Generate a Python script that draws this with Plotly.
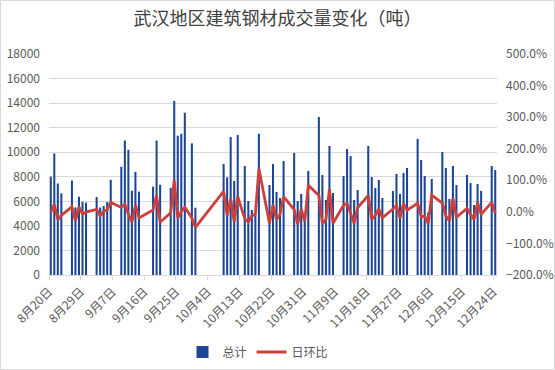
import plotly.graph_objects as go

# ---- data ----
dates = [
    "2019-08-20", "2019-08-21", "2019-08-22", "2019-08-23",
    "2019-08-26", "2019-08-27", "2019-08-28", "2019-08-29", "2019-08-30",
    "2019-09-02", "2019-09-03", "2019-09-04", "2019-09-05", "2019-09-06",
    "2019-09-09", "2019-09-10", "2019-09-11", "2019-09-12", "2019-09-13", "2019-09-14",
    "2019-09-18", "2019-09-19", "2019-09-20",
    "2019-09-23", "2019-09-24", "2019-09-25", "2019-09-26", "2019-09-27",
    "2019-09-29", "2019-09-30",
    "2019-10-08", "2019-10-09", "2019-10-10", "2019-10-11", "2019-10-12",
    "2019-10-14", "2019-10-15", "2019-10-16", "2019-10-17", "2019-10-18",
    "2019-10-21", "2019-10-22", "2019-10-23", "2019-10-24", "2019-10-25",
    "2019-10-28", "2019-10-29", "2019-10-30", "2019-10-31", "2019-11-01",
    "2019-11-04", "2019-11-05", "2019-11-06", "2019-11-07", "2019-11-08",
    "2019-11-11", "2019-11-12", "2019-11-13", "2019-11-14", "2019-11-15",
    "2019-11-18", "2019-11-19", "2019-11-20", "2019-11-21", "2019-11-22",
    "2019-11-25", "2019-11-26", "2019-11-27", "2019-11-28", "2019-11-29",
    "2019-12-02", "2019-12-03", "2019-12-04", "2019-12-05", "2019-12-06",
    "2019-12-09", "2019-12-10", "2019-12-11", "2019-12-12", "2019-12-13",
    "2019-12-16", "2019-12-17", "2019-12-18", "2019-12-19", "2019-12-20",
    "2019-12-23", "2019-12-24",
]

total = [
    8000, 9900, 7450, 6650,
    7700, 5500, 6380, 5960, 5900,
    6350, 5500, 5620, 5950, 7750,
    8820, 10950, 10200, 6860, 8400, 6790,
    7200, 10950, 7350,
    7100, 14180, 11350, 11500, 13220,
    10720, 5480,
    9040, 7960, 11240, 7660, 11400,
    8880, 6030, 5300, 4850, 11500,
    7330, 9040, 6760, 6270, 9290,
    9940, 6030, 6600, 4600, 8470,
    12870, 8150, 6110, 10510, 6680,
    8060, 10260, 9690, 6110, 6920,
    10510, 7980, 7090, 7740, 6270,
    6840, 8230, 6600, 8310, 8720,
    11080, 9370, 8060, 5100, 7820,
    10020, 8720, 6190, 8880, 7330,
    8150, 7490, 5700, 7410, 6840,
    8880, 8550,
]

ratio = [
    -0.03, 0.24, -0.25, -0.11,
    0.16, -0.29, 0.16, -0.07, -0.01,
    0.08, -0.13, 0.02, 0.06, 0.30,
    0.14, 0.24, -0.07, -0.33, 0.22, -0.19,
    0.06, 0.52, -0.33,
    -0.03, 1.00, -0.20, 0.01, 0.15,
    -0.19, -0.49,
    0.65, -0.12, 0.41, -0.32, 0.49,
    -0.22, -0.32, -0.12, -0.08, 1.37,
    -0.36, 0.23, -0.25, -0.07, 0.48,
    0.07, -0.39, 0.09, -0.30, 0.84,
    0.52, -0.37, -0.25, 0.72, -0.36,
    0.21, 0.27, -0.06, -0.37, 0.13,
    0.52, -0.24, -0.11, 0.09, -0.19,
    0.09, 0.20, -0.20, 0.26, 0.05,
    0.27, -0.15, -0.14, -0.37, 0.53,
    0.28, -0.13, -0.29, 0.43, -0.17,
    0.11, -0.08, -0.24, 0.30, -0.08,
    0.30, -0.04,
]

tick_dates = ["2019-08-20", "2019-08-29", "2019-09-07", "2019-09-16", "2019-09-25",
              "2019-10-04", "2019-10-13", "2019-10-22", "2019-10-31", "2019-11-09",
              "2019-11-18", "2019-11-27", "2019-12-06", "2019-12-15", "2019-12-24"]
tick_labels = ["8月20日", "8月29日", "9月7日", "9月16日", "9月25日",
               "10月4日", "10月13日", "10月22日", "10月31日", "11月9日",
               "11月18日", "11月27日", "12月6日", "12月15日", "12月24日"]

title_text = "武汉地区建筑钢材成交量变化（吨）"
series_names = ["总计", "日环比"]

DAY_MS = 86400000
FONT = "Noto Sans CJK SC, Noto Sans, sans-serif"
GRAY = "#595959"
GRID = "#d9d9d9"

fig = go.Figure()
fig.add_trace(go.Bar(
    x=dates, y=total, name=series_names[0],
    xperiod=DAY_MS, xperiodalignment="middle",
    width=0.58 * DAY_MS,
    marker=dict(color="#1c4596", line=dict(width=0)),
))
fig.add_trace(go.Scatter(
    x=dates, y=ratio, name=series_names[1], yaxis="y2",
    xperiod=DAY_MS, xperiodalignment="middle",
    mode="lines", line=dict(color="#cc3f3a", width=2.8),
))

L, R, T, B = 49, 58, 54, 95
W, H = 555, 370
pw, ph = W - L - R, H - T - B

fig.update_layout(
    width=W, height=H,
    margin=dict(l=L, r=R, t=T, b=B, autoexpand=False),
    paper_bgcolor="white", plot_bgcolor="white",
    font=dict(family=FONT, size=11, color=GRAY),
    title=dict(text=title_text, x=0.5, xanchor="center", y=1 - 19 / H, yanchor="middle",
               font=dict(family=FONT, size=18, color="#404040")),
    showlegend=True,
    legend=dict(orientation="h", x=(258 - L) / pw, xanchor="center", y=(H - B - 352) / ph, yanchor="middle",
                font=dict(family=FONT, size=12, color=GRAY), itemwidth=30,
                bgcolor="rgba(0,0,0,0)", traceorder="normal"),
    xaxis=dict(
        type="date",
        range=["2019-08-20", "2019-12-25"],
        tickmode="array", tickvals=tick_dates, ticktext=tick_labels,
        tickangle=-45, ticks="outside", ticklen=4, tickcolor=GRID,
        showline=True, linecolor=GRID, linewidth=1,
        showgrid=False, zeroline=False, automargin=False,
        tickfont=dict(family=FONT, size=12, color=GRAY),
    ),
    yaxis=dict(
        range=[0, 18000], dtick=2000, tick0=0, tickformat="d",
        showgrid=True, gridcolor=GRID, gridwidth=1,
        zeroline=False, showline=False, automargin=False,
        tickfont=dict(family=FONT, size=12, color=GRAY),
        ticks="", ticklabelstandoff=8,
    ),
    yaxis2=dict(
        overlaying="y", side="right",
        range=[-2, 5], dtick=1, tick0=-2,
        tickformat=".1%",
        showgrid=False, zeroline=False, showline=False, automargin=False,
        tickfont=dict(family=FONT, size=12, color=GRAY),
        ticks="", ticklabelstandoff=8,
    ),
    shapes=[dict(
        type="rect", xref="paper", yref="paper",
        x0=(0.5 - L) / pw, x1=(W - 0.5 - L) / pw,
        y0=(H - B - (H - 0.5)) / ph, y1=(H - B - 0.5) / ph,
        line=dict(color="#d9d9d9", width=1), fillcolor="rgba(0,0,0,0)", layer="below",
    )],
)

fig.write_html("out.html", config={"displayModeBar": False},
               post_script="document.body.style.margin='0';document.body.style.overflow='hidden';")
